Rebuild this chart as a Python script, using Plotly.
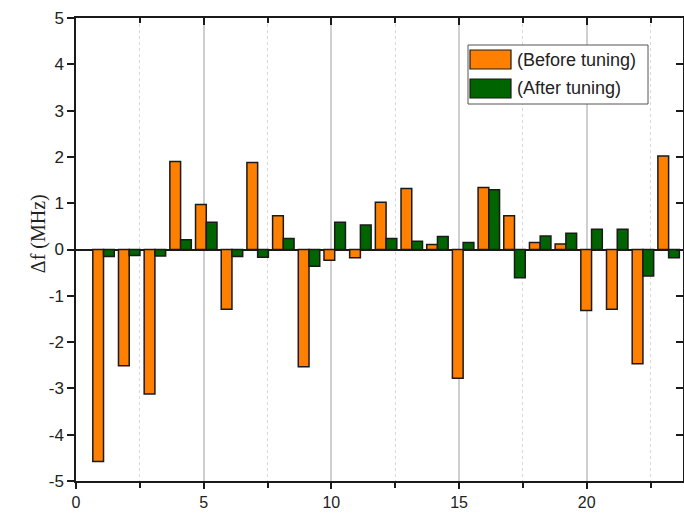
import plotly.graph_objects as go

resonator = list(range(1, 24))
before_tuning = [-4.58, -2.51, -3.12, 1.90, 0.97, -1.29, 1.88, 0.73, -2.53, -0.23,
                 -0.18, 1.02, 1.32, 0.11, -2.78, 1.34, 0.73, 0.15, 0.12, -1.32,
                 -1.29, -2.47, 2.02]
after_tuning = [-0.15, -0.13, -0.14, 0.21, 0.59, -0.15, -0.17, 0.24, -0.36, 0.59,
                0.53, 0.24, 0.18, 0.28, 0.15, 1.29, -0.61, 0.29, 0.35, 0.44,
                0.44, -0.57, -0.18]
series_names = ["(Before tuning)", "(After tuning)"]
series_colors = ["#FF8000", "#006400"]
x_tick_vals = [0, 5, 10, 15, 20]
x_tick_labels = ["0", "5", "10", "15", "20"]
y_tick_vals = [-5, -4, -3, -2, -1, 0, 1, 2, 3, 4, 5]
y_tick_labels = ["-5", "-4", "-3", "-2", "-1", "0", "1", "2", "3", "4", "5"]

TICK_FONT = dict(family="Liberation Sans, Arial", size=17, color="#222222")
X_TICK_FONT = dict(family="Liberation Sans, Arial", size=16, color="#222222")
AXIS_RANGE = [0, 23.77]
INK = "#1a1a1a"

fig = go.Figure()
for name, vals, col in zip(series_names, [before_tuning, after_tuning], series_colors):
    fig.add_trace(go.Bar(
        x=resonator, y=vals, name=name, showlegend=False,
        marker=dict(color=col, line=dict(color=INK, width=1.5)),
        xaxis="x", yaxis="y",
    ))

# empty helper traces so the frame axes (bottom, top, right) are drawn
for xa, ya in [("x2", "y"), ("x3", "y"), ("x", "y2")]:
    fig.add_trace(go.Scatter(x=[], y=[], xaxis=xa, yaxis=ya, showlegend=False,
                             hoverinfo="skip", mode="markers"))

fig.update_layout(
    width=684, height=513,
    margin=dict(l=76, r=1, t=18, b=32, autoexpand=False),
    plot_bgcolor="white", paper_bgcolor="white",
    barmode="group", bargap=0.164, bargroupgap=0,
    xaxis=dict(range=[-0.072, 23.56], visible=False, automargin=False),
    xaxis2=dict(
        overlaying="x", anchor="y", side="bottom", range=AXIS_RANGE, automargin=False,
        tickmode="array", tickvals=x_tick_vals, ticktext=x_tick_labels,
        ticks="outside", ticklen=6, tickwidth=1.5,
        tickcolor=INK, tickfont=X_TICK_FONT,
        showline=True, linecolor=INK, linewidth=1.5,
        showgrid=True, gridcolor="#cfcfcf", gridwidth=1.5, zeroline=False,
        minor=dict(tick0=0, dtick=2.5, ticks="outside", ticklen=5, tickwidth=1.5,
                   tickcolor=INK, showgrid=True, gridcolor="#d9d9d9",
                   griddash="dot", gridwidth=1),
    ),
    xaxis3=dict(
        overlaying="x", anchor="y", side="top", range=AXIS_RANGE, automargin=False,
        tickmode="array", tickvals=x_tick_vals,
        ticks="inside", ticklen=7, tickwidth=1.5,
        tickcolor=INK, showticklabels=False,
        showline=True, linecolor=INK, linewidth=1.5,
        showgrid=False, zeroline=False,
        minor=dict(tick0=0, dtick=2.5, ticks="inside", ticklen=5, tickwidth=1.5,
                   tickcolor=INK, showgrid=False),
    ),
    yaxis=dict(
        range=[-5, 5], automargin=False,
        tickmode="array", tickvals=y_tick_vals, ticktext=y_tick_labels,
        ticks="outside", ticklen=7, tickwidth=1.5,
        tickcolor=INK, tickfont=TICK_FONT,
        showline=True, linecolor=INK, linewidth=1.5,
        showgrid=False, zeroline=True, zerolinecolor=INK, zerolinewidth=1.5,
    ),
    yaxis2=dict(
        overlaying="y", anchor="x", side="right", range=[-5, 5], automargin=False,
        tickmode="array", tickvals=y_tick_vals,
        ticks="inside", ticklen=7, tickwidth=1.5,
        tickcolor=INK, showticklabels=False,
        showline=True, linecolor=INK, linewidth=1.5,
        showgrid=False, zeroline=False,
    ),
)

# y-axis title
fig.add_annotation(
    text="Δf (MHz)", xref="paper", yref="paper",
    x=-0.085, y=0.535, textangle=-90, showarrow=False,
    font=dict(family="Liberation Serif, Times New Roman", size=20, color="#222222"),
)

# legend box (drawn to match the reference's wide swatches)
px_w, px_h = 607, 463
def px_x(p):
    return (p - 76) / px_w
def px_y(p):
    return (481 - p) / px_h

fig.add_shape(type="rect", xref="paper", yref="paper",
              x0=px_x(468), x1=px_x(648), y0=px_y(104), y1=px_y(45),
              line=dict(color="#555555", width=1), fillcolor="white", layer="above")
for i, (name, col) in enumerate(zip(series_names, series_colors)):
    top = 50 + i * 29
    fig.add_shape(type="rect", xref="paper", yref="paper",
                  x0=px_x(470), x1=px_x(511), y0=px_y(top + 19), y1=px_y(top),
                  line=dict(color=INK, width=1.2), fillcolor=col, layer="above")
    fig.add_annotation(text=name, xref="paper", yref="paper",
                       x=px_x(515), y=px_y(top + 9.5), xanchor="left", yanchor="middle",
                       showarrow=False,
                       font=dict(family="Liberation Sans, Arial", size=18, color="#222222"))

fig.write_html("out.html")
